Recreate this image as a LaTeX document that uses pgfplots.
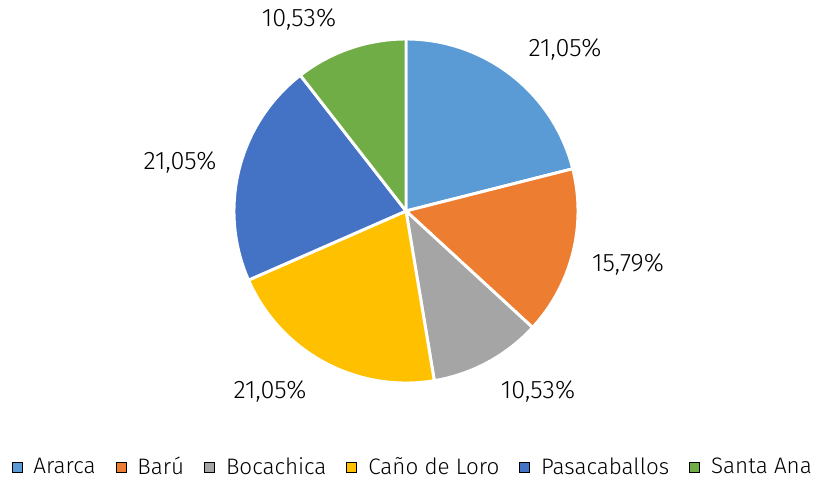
\documentclass[border=0pt]{standalone}
\usepackage{fontspec}
\setmainfont{Fira Sans}[UprightFont={* Light}]
\usepackage{pgfplots}
\pgfplotsset{compat=1.18}
\definecolor{cA}{HTML}{5B9BD5}
\definecolor{cB}{HTML}{ED7D31}
\definecolor{cC}{HTML}{A5A5A5}
\definecolor{cD}{HTML}{FFC000}
\definecolor{cE}{HTML}{4472C4}
\definecolor{cF}{HTML}{70AD47}
\begin{document}
\begin{tikzpicture}
\begin{axis}[
  scale only axis, width=612pt, height=360pt,
  xmin=0, xmax=816, ymin=0, ymax=480,
  hide axis, clip=false,
  legend columns=6,
  legend style={at={(axis cs:413,13)}, anchor=center, draw=none, fill=none,
    font=\fontsize{16.8}{19}\selectfont, column sep=6.5pt,
    /tikz/every even column/.append style={column sep=13pt}},
  legend image code/.code={\fill[#1] (0pt,-3.75pt) rectangle (7.5pt,3.75pt);},
]
\addlegendimage{fill=cA}\addlegendentry{Ararca}
\addlegendimage{fill=cB}\addlegendentry{Barú}
\addlegendimage{fill=cC}\addlegendentry{Bocachica}
\addlegendimage{fill=cD}\addlegendentry{Caño de Loro}
\addlegendimage{fill=cE}\addlegendentry{Pasacaballos}
\addlegendimage{fill=cF}\addlegendentry{Santa Ana}
\pgfplotsextra{
  \def\startang{90}
  \foreach \v/\c in {21.05/cA,15.79/cB,10.53/cC,21.05/cD,21.05/cE,10.53/cF}{
    \pgfmathsetmacro\endang{\startang-3.6*\v}
    \filldraw[fill=\c, draw=white, line width=2.2pt, line join=round]
      (axis cs:406,269) -- ++(\startang:129pt) arc[start angle=\startang, end angle=\endang, radius=129pt] -- cycle;
    \global\let\startang\endang
  }
}
\begin{scope}[every node/.style={font=\fontsize{19}{21}\selectfont}]
\node at (axis cs:565,430) {21,05\%};
\node at (axis cs:628,215) {15,79\%};
\node at (axis cs:538,88) {10,53\%};
\node at (axis cs:270,88) {21,05\%};
\node at (axis cs:180,317) {21,05\%};
\node at (axis cs:299,460) {10,53\%};
\end{scope}
\end{axis}
\pgfresetboundingbox
\path (current axis.south west) rectangle (current axis.north east);
\end{tikzpicture}
\end{document}
